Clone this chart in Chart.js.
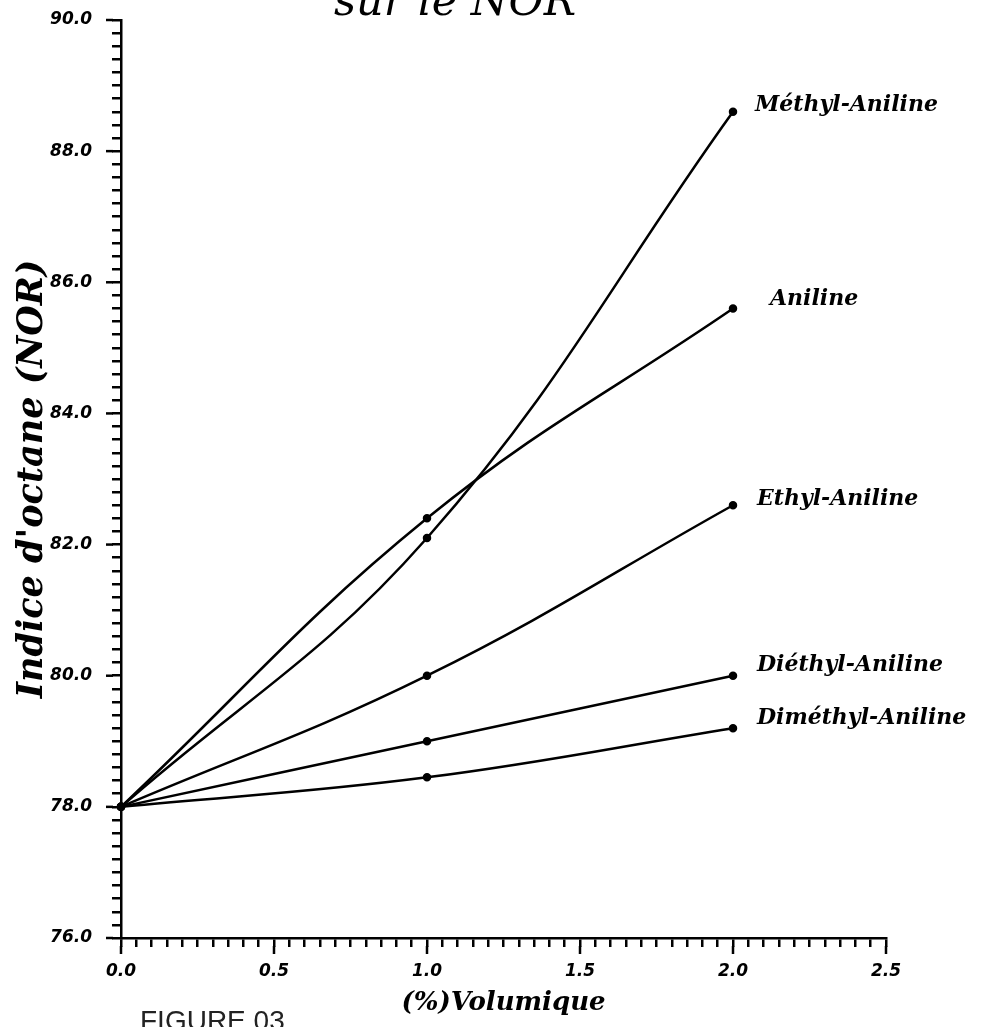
<!DOCTYPE html>
<html lang="fr">
<head>
    <meta charset="UTF-8">
    <title>Indice d'octane (NOR)</title>
    <script src="https://cdn.jsdelivr.net/npm/chart.js"></script>
    <style>
        html, body { margin: 0; padding: 0; background: #fff; }
        canvas { display: block; }
    </style>
</head>
<body>
<canvas id="norChart" width="987" height="1027"></canvas>
<script>
    // Données
    const volumes = [0.0, 1.0, 2.0];
    const aniline = [78.0, 82.4, 85.6];
    const methylAniline = [78.0, 82.1, 88.6];
    const ethylAniline = [78.0, 80.0, 82.6];
    const diethylAniline = [78.0, 79.0, 80.0];
    const dimethylAniline = [78.0, 78.45, 79.2];
    const nomsSeries = ['Aniline', 'Méthyl-Aniline', 'Ethyl-Aniline', 'Diéthyl-Aniline', 'Diméthyl-Aniline'];
    const ticksX = [0.0, 0.5, 1.0, 1.5, 2.0, 2.5];
    const ticksY = [76.0, 78.0, 80.0, 82.0, 84.0, 86.0, 88.0, 90.0];

    const series = [aniline, methylAniline, ethylAniline, diethylAniline, dimethylAniline];

    function estMajeur(v, liste) {
        return liste.some(t => Math.abs(t - v) < 1e-6);
    }

    // Étiquettes à droite des courbes, grands traits de graduation, textes hors axes
    const decorPlugin = {
        id: 'decor',
        afterDraw(chart) {
            const ctx = chart.ctx;
            const x = chart.scales.x;
            const y = chart.scales.y;
            ctx.save();

            // graduations majeures plus longues
            ctx.strokeStyle = '#000';
            ctx.lineWidth = 2.5;
            ticksY.forEach(v => {
                const py = y.getPixelForValue(v);
                ctx.beginPath();
                ctx.moveTo(x.left - 8, py);
                ctx.lineTo(x.left - 15, py);
                ctx.stroke();
            });
            ticksX.forEach(v => {
                const px = x.getPixelForValue(v);
                ctx.beginPath();
                ctx.moveTo(px, y.bottom + 8);
                ctx.lineTo(px, y.bottom + 16);
                ctx.stroke();
            });

            // noms des amines
            const decalages = [[37, -9], [22, -7], [24, -6], [24, -10], [24, -10]];
            ctx.fillStyle = '#000';
            ctx.font = 'bold italic 22px "DejaVu Serif"';
            ctx.textBaseline = 'middle';
            ctx.textAlign = 'left';
            series.forEach((s, i) => {
                const n = s.length - 1;
                const px = x.getPixelForValue(volumes[n]) + decalages[i][0];
                const py = y.getPixelForValue(s[n]) + decalages[i][1];
                ctx.fillText(nomsSeries[i], px, py);
            });

            // fin du titre (coupé en haut) et numéro de figure
            ctx.font = 'italic 43px "DejaVu Serif"';
            ctx.textAlign = 'center';
            ctx.textBaseline = 'alphabetic';
            ctx.fillText('sur le NOR', 455, 15);

            ctx.font = '28px "Liberation Sans"';
            ctx.fillStyle = '#222';
            ctx.textAlign = 'left';
            ctx.textBaseline = 'top';
            ctx.fillText('FIGURE 03', 140, 1008);
            ctx.restore();
        }
    };

    const ctx = document.getElementById('norChart').getContext('2d');
    new Chart(ctx, {
        type: 'line',
        data: {
            datasets: series.map((s, i) => ({
                label: nomsSeries[i],
                data: volumes.map((v, j) => ({ x: v, y: s[j] })),
                borderColor: '#000',
                backgroundColor: '#000',
                borderWidth: 2.5,
                pointRadius: 3,
                pointHoverRadius: 3,
                tension: 0.4,
                clip: false
            }))
        },
        options: {
            responsive: false,
            animation: false,
            events: [],
            layout: {
                padding: { top: 20, right: 101, left: 0, bottom: 0 }
            },
            plugins: {
                legend: { display: false },
                tooltip: { enabled: false }
            },
            scales: {
                x: {
                    type: 'linear',
                    min: 0,
                    max: 2.5,
                    afterFit: scale => { scale.height = 89; },
                    border: { color: '#000', width: 2.5 },
                    grid: {
                        drawOnChartArea: false,
                        color: '#000',
                        lineWidth: 2.5,
                        tickLength: 9
                    },
                    ticks: {
                        stepSize: 0.05,
                        autoSkip: false,
                        maxRotation: 0,
                        padding: 14,
                        color: '#000',
                        font: { family: 'DejaVu Sans', size: 17, weight: 'bold', style: 'italic' },
                        callback: v => estMajeur(v, ticksX) ? v.toFixed(1) : ''
                    },
                    title: {
                        display: true,
                        text: '(%)Volumique',
                        color: '#000',
                        font: { family: 'DejaVu Serif', size: 26, weight: 'bold', style: 'italic' },
                        padding: { top: 0, bottom: 8 }
                    }
                },
                y: {
                    type: 'linear',
                    min: 76,
                    max: 90,
                    afterFit: scale => {
                        scale.width = 121;
                        scale.paddingTop = 0;
                        scale.paddingBottom = 0;
                    },
                    border: { color: '#000', width: 2.5 },
                    grid: {
                        drawOnChartArea: false,
                        color: '#000',
                        lineWidth: 2.5,
                        tickLength: 9
                    },
                    ticks: {
                        stepSize: 0.2,
                        autoSkip: false,
                        padding: 20,
                        color: '#000',
                        font: { family: 'DejaVu Sans', size: 17, weight: 'bold', style: 'italic' },
                        callback: v => estMajeur(v, ticksY) ? v.toFixed(1) : ''
                    },
                    title: {
                        display: true,
                        text: "Indice d'octane (NOR)",
                        color: '#000',
                        font: { family: 'DejaVu Serif', size: 35, weight: 'bold', style: 'italic' },
                        padding: { top: 12, bottom: 0 }
                    }
                }
            }
        },
        plugins: [decorPlugin]
    });
</script>
</body>
</html>
